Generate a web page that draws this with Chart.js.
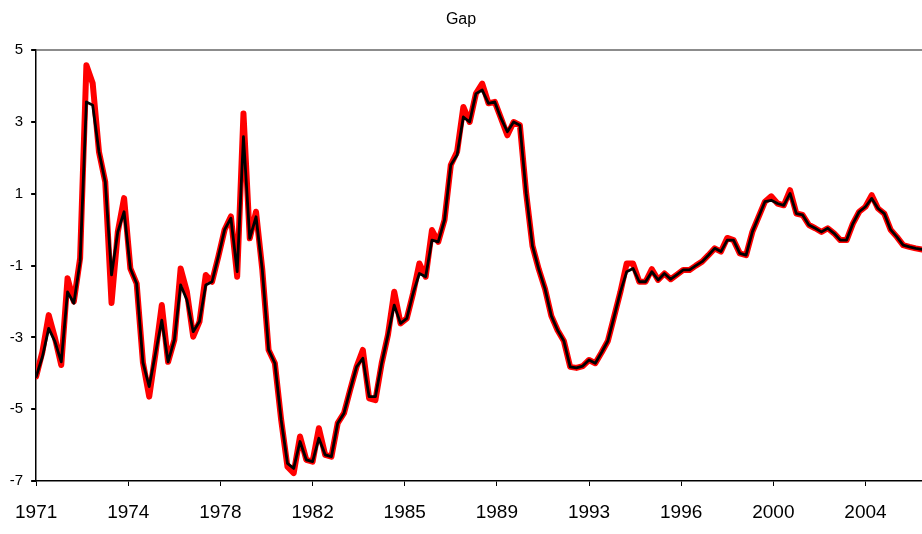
<!DOCTYPE html>
<html>
<head>
<meta charset="utf-8">
<title>Gap</title>
<script src="https://cdn.jsdelivr.net/npm/chart.js@4/dist/chart.umd.min.js"></script>
<style>
    html, body { margin: 0; padding: 0; background: #ffffff; }
    #gapChart { display: block; }
</style>
</head>
<body>
<canvas id="gapChart" width="922" height="534"></canvas>
<script>
// 1. SERIES DATA (quarterly, first point = 1971 Q1)
const firstYear = 1971;

// Thick red series
const gapRed = [
    -4.09, -3.40, -2.38, -3.02, -3.77, -1.35, -2.00, -0.79, 4.58, 4.08,
    2.17, 1.33, -2.04, -0.06, 0.88, -1.08, -1.50, -3.70, -4.65, -3.44,
    -2.10, -3.68, -3.07, -1.08, -1.73, -2.98, -2.56, -1.26, -1.45, -0.75,
    0.00, 0.37, -1.31, 3.24, -0.24, 0.50, -1.12, -3.35, -3.72, -5.30,
    -6.60, -6.78, -5.76, -6.41, -6.46, -5.53, -6.27, -6.32, -5.39, -5.11,
    -4.45, -3.82, -3.35, -4.70, -4.75, -3.72, -2.93, -1.73, -2.61, -2.47,
    -1.77, -0.94, -1.31, -0.01, -0.34, 0.27, 1.80, 2.17, 3.42, 3.00,
    3.79, 4.07, 3.52, 3.56, 3.10, 2.63, 3.00, 2.91, 1.01, -0.45,
    -1.10, -1.65, -2.40, -2.80, -3.10, -3.82, -3.85, -3.80, -3.63, -3.72,
    -3.42, -3.10, -2.42, -1.73, -0.94, -0.94, -1.45, -1.45, -1.10, -1.40,
    -1.22, -1.38, -1.25, -1.12, -1.12, -1.00, -0.89, -0.71, -0.52, -0.61,
    -0.23, -0.29, -0.66, -0.71, -0.06, 0.36, 0.78, 0.93, 0.73, 0.68,
    1.10, 0.45, 0.41, 0.13, 0.04, -0.06, 0.04, -0.10, -0.29, -0.29,
    0.17, 0.50, 0.64, 0.96, 0.59, 0.45, 0.00, -0.20, -0.43, -0.48,
    -0.52, -0.55
];

// Thin black series
const gapBlack = [
    -4.09, -3.54, -2.75, -3.12, -3.68, -1.73, -2.05, -0.89, 3.56, 3.47,
    2.17, 1.33, -1.26, -0.06, 0.50, -1.08, -1.50, -3.70, -4.37, -3.44,
    -2.52, -3.68, -3.07, -1.54, -1.96, -2.84, -2.56, -1.54, -1.45, -0.75,
    0.00, 0.32, -1.17, 2.59, -0.24, 0.36, -1.12, -3.35, -3.72, -5.30,
    -6.51, -6.65, -5.90, -6.41, -6.46, -5.81, -6.27, -6.32, -5.39, -5.11,
    -4.45, -3.82, -3.58, -4.65, -4.65, -3.72, -2.93, -2.10, -2.61, -2.47,
    -1.77, -1.22, -1.31, -0.29, -0.34, 0.27, 1.80, 2.08, 3.14, 3.00,
    3.79, 3.89, 3.52, 3.56, 3.10, 2.73, 3.00, 2.91, 1.01, -0.45,
    -1.10, -1.65, -2.40, -2.80, -3.10, -3.82, -3.85, -3.80, -3.63, -3.72,
    -3.42, -3.10, -2.42, -1.73, -1.17, -1.08, -1.45, -1.45, -1.17, -1.40,
    -1.22, -1.38, -1.25, -1.12, -1.12, -1.00, -0.89, -0.71, -0.52, -0.61,
    -0.29, -0.29, -0.66, -0.71, -0.06, 0.36, 0.78, 0.82, 0.73, 0.68,
    1.01, 0.45, 0.41, 0.13, 0.04, -0.06, 0.04, -0.10, -0.29, -0.29,
    0.17, 0.50, 0.64, 0.87, 0.59, 0.45, 0.00, -0.20, -0.43, -0.48,
    -0.52, -0.55
];

// 2. AXIS LABELS
// Year labels sit every 44 months along the date axis
const yearLabels = ['1971', '1974', '1978', '1982', '1985', '1989', '1993', '1996', '2000', '2004'];
const labelStepMonths = 44;
const yTicks = [5, 3, 1, -1, -3, -5, -7];

// Quarter i -> months since January of firstYear
const toPoints = (values) => values.map((v, i) => ({ x: i * 3, y: v }));
const lastMonth = (gapRed.length - 1) * 3;

const fontFamily = '"Liberation Sans", Arial, sans-serif';

// 3. CHART SETUP
const ctx = document.getElementById('gapChart').getContext('2d');

const gapChart = new Chart(ctx, {
    type: 'line',
    data: {
        datasets: [
            {
                label: 'Gap (thin)',
                data: toPoints(gapBlack),
                borderColor: '#000000',
                borderWidth: 2.8,
                pointRadius: 0,
                tension: 0,
                borderJoinStyle: 'round',
                borderCapStyle: 'round',
                fill: false,
                order: 0
            },
            {
                label: 'Gap',
                data: toPoints(gapRed),
                borderColor: '#ff0000',
                borderWidth: 6,
                pointRadius: 0,
                tension: 0,
                borderJoinStyle: 'round',
                borderCapStyle: 'round',
                fill: false,
                order: 1
            }
        ]
    },
    options: {
        responsive: false,
        devicePixelRatio: 1,
        animation: false,
        layout: { padding: { left: 0, right: 0, top: 0, bottom: 0 } },
        scales: {
            x: {
                type: 'linear',
                min: 0,
                max: lastMonth,
                afterBuildTicks: (scale) => {
                    scale.ticks = yearLabels.map((_, i) => ({ value: i * labelStepMonths }));
                },
                afterFit: (scale) => { scale.height = 53; },
                grid: {
                    drawOnChartArea: false,
                    drawTicks: true,
                    tickLength: 5,
                    tickColor: '#000000'
                },
                border: { display: true, color: '#000000', width: 1.5 },
                ticks: {
                    autoSkip: false,
                    maxRotation: 0,
                    padding: 15,
                    color: '#000000',
                    font: { family: fontFamily, size: 19 },
                    callback: (value, index) => yearLabels[index]
                }
            },
            y: {
                min: -7,
                max: 5,
                afterBuildTicks: (scale) => {
                    scale.ticks = yTicks.map(v => ({ value: v }));
                },
                afterFit: (scale) => { scale.width = 34; },
                grid: {
                    drawTicks: true,
                    tickLength: 5,
                    tickColor: '#000000',
                    // only the top edge of the plot gets a (grey) rule
                    color: (c) => (c.tick && c.tick.value === 5) ? '#8c8c8c' : 'rgba(0,0,0,0)',
                    lineWidth: 2
                },
                border: { display: true, color: '#000000', width: 1.5 },
                ticks: {
                    padding: 8,
                    color: '#000000',
                    font: { family: fontFamily, size: 15 }
                }
            }
        },
        plugins: {
            legend: { display: false },
            tooltip: { enabled: false },
            title: {
                display: true,
                text: 'Gap',
                color: '#000000',
                font: { family: fontFamily, size: 16, weight: 'normal' },
                padding: { top: 10, bottom: 21 }
            }
        }
    }
});
</script>
</body>
</html>
